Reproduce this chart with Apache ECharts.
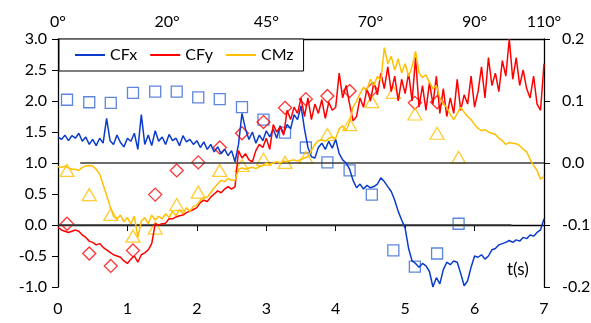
<!DOCTYPE html>
<html>
<head>
<meta charset="utf-8">
<script src="https://cdn.jsdelivr.net/npm/echarts@6/dist/echarts.min.js"></script>
<style>
  html, body { margin: 0; padding: 0; background: #fff; }
  #chart { width: 591px; height: 323px; }
</style>
</head>
<body>
<div id="chart"></div>
<script>
// ============================================
// DATA (time step 0.05 s, t = 0 .. 7)
// ============================================

const STEP = 0.05;

const cfx = [
    1.42, 1.38, 1.45, 1.36, 1.44, 1.40, 1.48, 1.35, 1.42, 1.30, 1.38,
    1.28, 1.40, 1.32, 1.72, 1.36, 1.30, 1.45, 1.33, 1.26, 1.40,
    1.35, 1.48, 1.22, 1.78, 1.30, 1.45, 1.28, 1.52, 1.35, 1.42,
    1.30, 1.46, 1.36, 1.40, 1.28, 1.44, 1.34, 1.38, 1.30, 1.36,
    1.25, 1.34, 1.22, 1.30, 1.18, 1.26, 1.15, 1.22, 1.12, 1.20,
    1.02, 1.30, 1.80, 1.55, 1.38, 1.50, 1.32, 1.45, 1.36, 1.52,
    1.42, 1.55, 1.40, 1.60, 1.48, 1.62, 1.55, 1.78, 1.70, 1.92,
    1.55, 1.25, 1.10, 1.08, 1.25, 1.32, 1.22, 1.35, 1.24, 1.38,
    1.15, 1.05, 1.00, 0.90, 0.72, 0.60, 0.66, 0.58, 0.64, 0.60,
    0.62, 0.66, 0.76, 0.70, 0.62, 0.54, 0.40, 0.22, 0.08, -0.05,
    -0.38, -0.58, -0.62, -0.68, -0.62, -0.66, -0.75, -1.00, -0.85, -0.95,
    -0.72, -0.60, -0.64, -0.58, -0.60, -0.78, -0.98, -0.90, -0.68, -0.50,
    -0.52, -0.48, -0.55, -0.50, -0.40, -0.38, -0.32, -0.30, -0.28, -0.25,
    -0.28, -0.24, -0.26, -0.20, -0.22, -0.16, -0.18, -0.12, -0.08, 0.10
];

const cfy = [
    -0.04, -0.08, -0.10, -0.12, -0.10, -0.08, -0.10, -0.16, -0.20, -0.26, -0.28,
    -0.32, -0.30, -0.36, -0.40, -0.44, -0.48, -0.50, -0.52, -0.58, -0.62,
    -0.55, -0.50, -0.60, -0.48, -0.45, -0.40, -0.30, 0.02, 0.00, 0.02,
    0.03, 0.10, 0.10, 0.13, 0.15, 0.16, 0.20, 0.22, 0.25, 0.28,
    0.36, 0.40, 0.38, 0.45, 0.50, 0.55, 0.52, 0.58, 0.62, 0.58,
    0.62, 1.20, 1.08, 1.15, 1.05, 1.02, 1.20, 1.30, 1.25, 1.40,
    1.22, 1.62, 1.50, 1.58, 1.45, 1.85, 1.70, 1.90, 1.80, 2.05,
    1.75, 2.05, 1.70, 1.95, 1.80, 2.02, 1.72, 1.98, 1.85, 1.90,
    2.45, 2.05, 2.25, 1.95, 1.68, 1.75, 2.05, 1.90, 2.20, 2.00,
    2.30, 2.10, 2.45, 2.20, 2.55, 2.15, 2.40, 2.00, 2.35, 2.12,
    2.45, 2.00, 2.70, 1.90, 2.25, 1.85, 2.30, 1.95, 2.40, 1.80,
    2.20, 1.75, 2.05, 1.80, 2.35, 1.85, 2.10, 1.95, 2.40, 1.90,
    2.15, 2.55, 2.05, 2.70, 2.25, 2.45, 2.15, 2.65, 2.40, 3.00,
    2.35, 2.70, 2.25, 2.50, 2.20, 2.05, 2.40, 1.95, 1.85, 2.60
];

// CMz on the right axis
const cmz = [
    -0.006, -0.007, -0.005, -0.008, -0.010, -0.010, -0.012, -0.007, -0.005, -0.004, -0.005,
    -0.010, -0.018, -0.035, -0.052, -0.070, -0.086, -0.090, -0.084, -0.095, -0.088,
    -0.098, -0.086, -0.120, -0.094, -0.088, -0.098, -0.084, -0.092, -0.086, -0.090,
    -0.082, -0.088, -0.078, -0.085, -0.075, -0.082, -0.072, -0.078, -0.070, -0.068,
    -0.060, -0.056, -0.055, -0.048, -0.040, -0.034, -0.028, -0.030, -0.025, -0.028,
    -0.028, -0.010, -0.008, -0.010, -0.008, -0.007, -0.009, -0.006, -0.004, 0.000,
    -0.002, 0.000, 0.002, 0.000, 0.003, 0.002, 0.004, 0.005, 0.003, 0.006,
    0.008, 0.010, 0.020, 0.030, 0.036, 0.038, 0.035, 0.040, 0.042, 0.040,
    0.055, 0.060, 0.052, 0.066, 0.090, 0.100, 0.112, 0.122, 0.118, 0.135,
    0.125, 0.140, 0.132, 0.186, 0.160, 0.172, 0.150, 0.168, 0.145, 0.160,
    0.140, 0.155, 0.180, 0.145, 0.138, 0.142, 0.130, 0.120, 0.125, 0.105,
    0.095, 0.090, 0.078, 0.070, 0.080, 0.090, 0.082, 0.075, 0.070, 0.062,
    0.056, 0.052, 0.054, 0.050, 0.048, 0.046, 0.040, 0.036, 0.030, 0.033,
    0.032, 0.031, 0.028, 0.022, 0.018, 0.006, -0.004, -0.012, -0.026, -0.022
];

// Marker points
const markerT = [0.13, 0.45, 0.76, 1.08, 1.40, 1.71, 2.02, 2.33, 2.65, 2.96,
                 3.27, 3.57, 3.88, 4.20, 4.52, 4.83, 5.14, 5.46, 5.77];
const cfxPts = [2.02, 1.98, 1.97, 2.13, 2.15, 2.15, 2.06, 2.03, 1.90, 1.70,
                1.49, 1.25, 1.01, 0.88, 0.49, -0.41, -0.67, -0.46, 0.02];
const cfyPts = [0.02, -0.46, -0.66, -0.41, 0.49, 0.88, 1.01, 1.25, 1.48, 1.66,
                1.89, 2.03, 2.08, 2.16, 2.18, null, 1.97, 1.98, null];
const cmzPts = [-0.012, -0.051, -0.083, -0.118, -0.105, -0.067, -0.047, -0.012, -0.004, 0.006,
                0.001, 0.009, 0.046, 0.062, 0.099, 0.114, 0.079, 0.048, 0.009];

// Reference lines
const refLineUpper = [[0.32, 1.0], [7, 1.0]];
const refLineLower = [[0, 0.0], [6.53, 0.0]];

// Top axis (angle)
const anglePos = [0, 1.57, 3.0, 4.5, 6.0, 7.0];
const angleLabels = ['0°', '20°', '45°', '70°', '90°', '110°'];

// ============================================
// CHART
// ============================================

const FONT = 'Lato';
const blue = '#0a3ccc';
const blueMarker = '#3566d6';
const red = '#ff0000';
const gold = '#ffc000';

function toSeries(values) {
    return values.map((v, i) => [i * STEP, v]);
}

function pts(values) {
    return markerT.map((t, i) => values[i] === null ? null : [t, values[i]]).filter(p => p);
}

function fmt(v) {
    if (Math.abs(v) < 1e-9) return '0.0';
    return v.toFixed(1);
}

const axisText = { color: '#000', fontFamily: FONT, fontSize: 16 };

const chart = echarts.init(document.getElementById('chart'), null, { renderer: 'canvas' });

const option = {
    backgroundColor: '#fff',
    animation: false,
    grid: { left: 58, right: 47, top: 39, bottom: 36, containLabel: false, outerBoundsMode: 'none' },
    legend: {
        left: 59,
        top: 39,
        orient: 'horizontal',
        padding: [8, 10, 8, 16],
        itemGap: 13,
        itemWidth: 30,
        itemHeight: 2,
        icon: 'rect',
        borderColor: '#000',
        borderWidth: 1,
        borderRadius: 0,
        backgroundColor: '#fff',
        textStyle: { color: '#000', fontFamily: FONT, fontSize: 16 },
        data: ['CFx', 'CFy', 'CMz']
    },
    graphic: [{
        type: 'text',
        left: 507,
        top: 261,
        style: { text: 't(s)', fill: '#000', font: '17px ' + FONT }
    }],
    xAxis: [{
        type: 'value',
        min: 0,
        max: 7,
        interval: 1,
        position: 'bottom',
        axisLine: { show: true, lineStyle: { color: '#000', width: 1.3 } },
        axisTick: { show: true, inside: false, length: 6, lineStyle: { color: '#000' } },
        axisLabel: Object.assign({ margin: 14 }, axisText),
        splitLine: { show: false }
    }, {
        type: 'value',
        min: 0,
        max: 7,
        position: 'top',
        axisLine: { show: true, onZero: false, lineStyle: { color: '#000', width: 1.3 } },
        axisTick: { show: false },
        axisLabel: Object.assign({
            margin: 9,
            customValues: anglePos,
            formatter: v => angleLabels[anglePos.indexOf(v)]
        }, axisText),
        splitLine: { show: false }
    }],
    yAxis: [{
        type: 'value',
        min: -1,
        max: 3,
        interval: 0.5,
        axisLine: { show: true, onZero: false, lineStyle: { color: '#000', width: 1.3 } },
        axisTick: { show: true, length: 6, lineStyle: { color: '#000' } },
        axisLabel: Object.assign({ margin: 11, formatter: fmt }, axisText),
        splitLine: { show: false }
    }, {
        type: 'value',
        min: -0.2,
        max: 0.2,
        interval: 0.1,
        position: 'right',
        axisLine: { show: true, onZero: false, lineStyle: { color: '#000', width: 1.3 } },
        axisTick: { show: true, length: 6, lineStyle: { color: '#000' } },
        axisLabel: Object.assign({ margin: 18, formatter: fmt }, axisText),
        splitLine: { show: false }
    }],
    series: [
        {
            name: 'ref1', type: 'line', data: refLineUpper, symbol: 'none', silent: true,
            lineStyle: { color: '#3a3a3a', width: 1.6 }
        },
        {
            name: 'ref0', type: 'line', data: refLineLower, symbol: 'none', silent: true,
            lineStyle: { color: '#3a3a3a', width: 1.6 }
        },
        {
            name: 'CFx', type: 'line', data: toSeries(cfx), symbol: 'none',
            itemStyle: { color: blue }, lineStyle: { color: blue, width: 1.5 }
        },
        {
            name: 'CFy', type: 'line', data: toSeries(cfy), symbol: 'none',
            itemStyle: { color: red }, lineStyle: { color: red, width: 1.5 }
        },
        {
            name: 'CMz', type: 'line', yAxisIndex: 1, data: toSeries(cmz), symbol: 'none',
            itemStyle: { color: gold }, lineStyle: { color: gold, width: 1.5 }
        },
        {
            name: 'CFx pts', type: 'scatter', data: pts(cfxPts), symbol: 'rect', symbolSize: 11,
            itemStyle: { color: 'transparent', borderColor: blueMarker, borderWidth: 1.3 }
        },
        {
            name: 'CFy pts', type: 'scatter', data: pts(cfyPts), symbol: 'diamond', symbolSize: 13,
            itemStyle: { color: 'transparent', borderColor: red, borderWidth: 1.3 }
        },
        {
            name: 'CMz pts', type: 'scatter', yAxisIndex: 1, data: pts(cmzPts), symbol: 'triangle',
            symbolSize: [14, 12],
            itemStyle: { color: 'transparent', borderColor: gold, borderWidth: 1.3 }
        }
    ]
};

chart.setOption(option);
</script>
</body>
</html>
